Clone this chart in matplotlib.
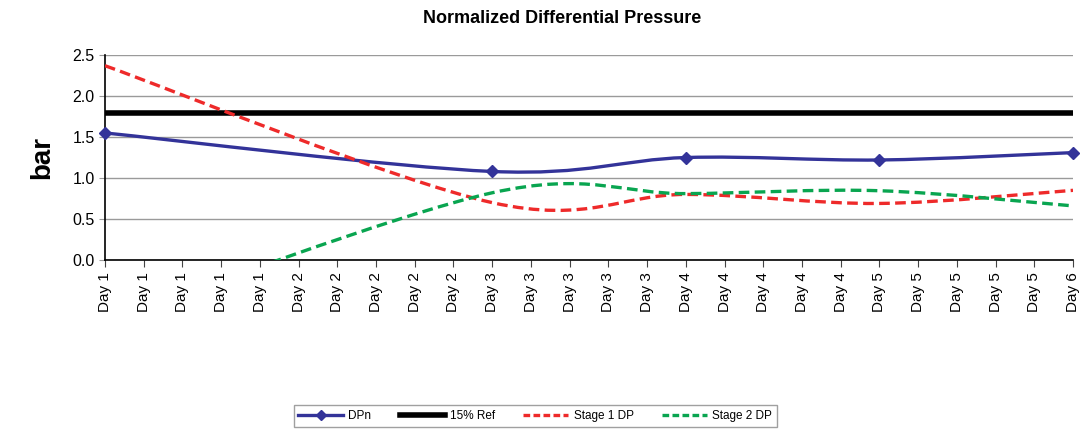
import numpy as np
import matplotlib
matplotlib.use('Agg')
import matplotlib.pyplot as plt
from matplotlib.path import Path
from matplotlib.patches import PathPatch
from matplotlib.lines import Line2D

plt.rcParams['font.family'] = ['Liberation Sans', 'DejaVu Sans']

# data (x in days)
days = [1, 3, 4, 5, 6]
dpn = [1.55, 1.08, 1.25, 1.22, 1.31]
stage1_dp = [2.37, 0.70, 0.80, 0.69, 0.85]
stage2_dp = [-0.75, 0.82, 0.81, 0.845, 0.66]
ref_15 = 1.79

tick_labels = (['Day 1'] * 5 + ['Day 2'] * 5 + ['Day 3'] * 5 +
               ['Day 4'] * 5 + ['Day 5'] * 5 + ['Day 6'])

navy = '#333399'
red = '#ee2a2a'
green = '#09a550'


def smooth_path(x, y):
    # excel style smoothed line: catmull-rom turned into cubic bezier segments
    pts = np.column_stack([x, y]).astype(float)
    n = len(pts)
    verts = [pts[0]]
    codes = [Path.MOVETO]
    for i in range(n - 1):
        p0 = pts[max(i - 1, 0)]
        p1 = pts[i]
        p2 = pts[i + 1]
        p3 = pts[min(i + 2, n - 1)]
        verts += [p1 + (p2 - p0) / 6, p2 - (p3 - p1) / 6, p2]
        codes += [Path.CURVE4] * 3
    return Path(verts, codes)


fig = plt.figure(figsize=(10.81, 4.32), dpi=100)
ax = fig.add_axes([0.0971, 0.3981, 0.8955, 0.4745])

ax.set_xlim(1, 6)
ax.set_ylim(0, 2.5)
ax.set_yticks(np.arange(0, 2.51, 0.5))
ax.set_yticklabels([f'{v:.1f}' for v in np.arange(0, 2.51, 0.5)], fontsize=11.5)
ax.set_xticks(1 + 0.2 * np.arange(len(tick_labels)))
ax.set_xticklabels(tick_labels, rotation=90, fontsize=11)
ax.grid(axis='y', color='#9a9a9a', lw=1)
ax.set_axisbelow(True)
for s in ['top', 'right']:
    ax.spines[s].set_visible(False)
ax.spines['left'].set_linewidth(1.2)
ax.spines['bottom'].set_linewidth(1.2)
ax.tick_params(axis='x', length=5, color='#444444')
ax.tick_params(axis='y', length=4, color='#999999')

ax.add_patch(PathPatch(smooth_path(days, dpn), fill=False, edgecolor=navy,
                       lw=2.4, zorder=3))
ax.plot(days, dpn, 'D', color=navy, ms=6.5, zorder=4, clip_on=False)
ax.axhline(ref_15, color='black', lw=4, zorder=3)
ax.add_patch(PathPatch(smooth_path(days, stage1_dp), fill=False, edgecolor=red,
                       lw=2.4, linestyle=(0, (3.2, 1.6)), zorder=5))
ax.add_patch(PathPatch(smooth_path(days, stage2_dp), fill=False, edgecolor=green,
                       lw=2.4, linestyle=(0, (3.2, 1.6)), zorder=6))

ax.set_ylabel('bar', fontsize=20, fontweight='bold', labelpad=12)
fig.text(0.52, 0.958, 'Normalized Differential Pressure', ha='center',
         va='center', fontsize=13, fontweight='bold')

handles = [
    Line2D([], [], color=navy, lw=2.4, marker='D', ms=5),
    Line2D([], [], color='black', lw=4),
    Line2D([], [], color=red, lw=2.4, linestyle=(0, (2, 1))),
    Line2D([], [], color=green, lw=2.4, linestyle=(0, (2, 1))),
]
leg = fig.legend(handles, ['DPn', '15% Ref', 'Stage 1 DP', 'Stage 2 DP'],
                 loc='center', bbox_to_anchor=(0.495, 0.037), ncol=4,
                 fontsize=8.5, handlelength=3.8, handletextpad=0.45,
                 columnspacing=2.4, fancybox=False, borderpad=0.4,
                 borderaxespad=0, edgecolor='#888888')
leg.get_frame().set_linewidth(1)

fig.savefig('out.png', dpi=100)
